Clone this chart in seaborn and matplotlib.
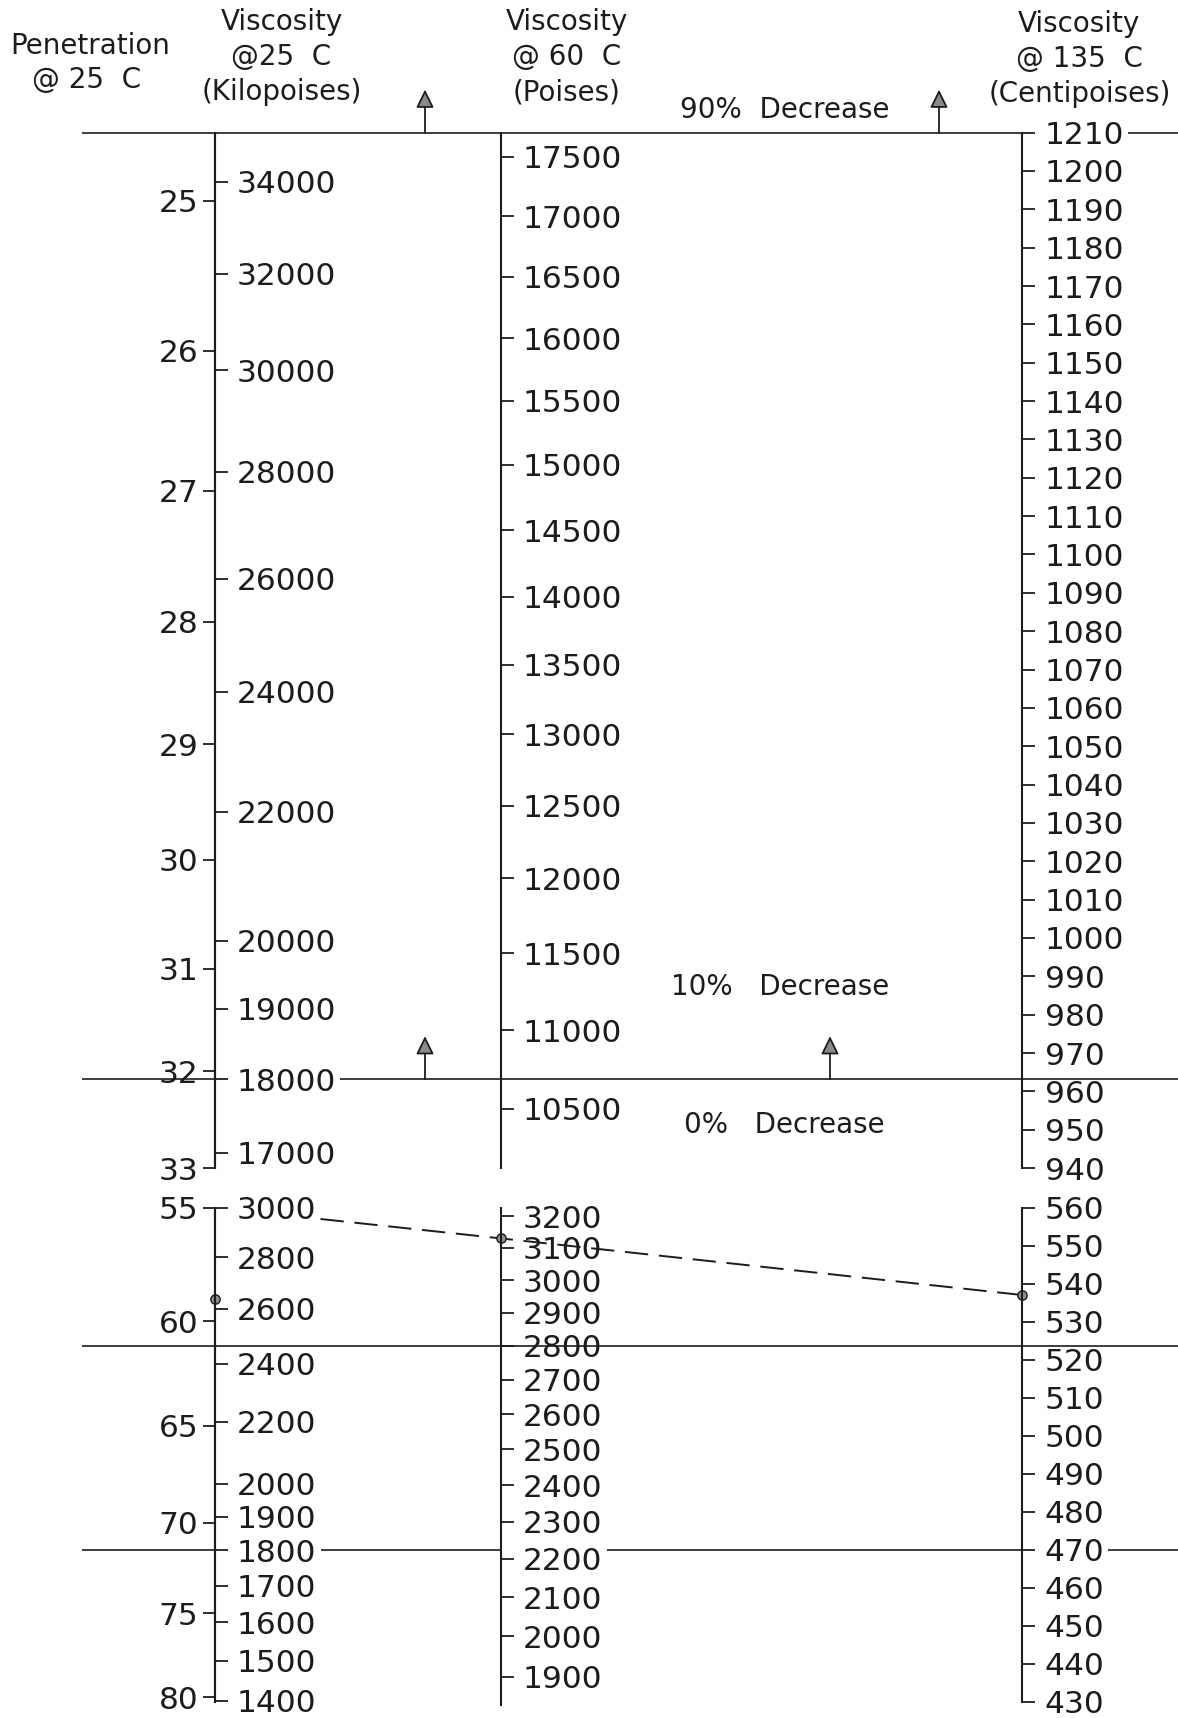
import numpy as np
import pandas as pd
import matplotlib
matplotlib.use("Agg")
import matplotlib.pyplot as plt
from matplotlib.ticker import NullLocator
import seaborn as sns

# ---- scale graduations -------------------------------------------------
pen_upper = [25, 26, 27, 28, 29, 30, 31, 32, 33]
kpoise_upper = [34000, 32000, 30000, 28000, 26000, 24000, 22000, 20000,
                19000, 18000, 17000]
poise60_upper = [17500, 17000, 16500, 16000, 15500, 15000, 14500, 14000,
                 13500, 13000, 12500, 12000, 11500, 11000, 10500]
cpoise135_upper = [1210, 1200, 1190, 1180, 1170, 1160, 1150, 1140, 1130,
                   1120, 1110, 1100, 1090, 1080, 1070, 1060, 1050, 1040,
                   1030, 1020, 1010, 1000, 990, 980, 970, 960, 950, 940]

pen_lower = [55, 60, 65, 70, 75, 80]
kpoise_lower = [3000, 2800, 2600, 2400, 2200, 2000, 1900, 1800, 1700,
                1600, 1500, 1400]
poise60_lower = [3200, 3100, 3000, 2900, 2800, 2700, 2600, 2500, 2400,
                 2300, 2200, 2100, 2000, 1900]
cpoise135_lower = [560, 550, 540, 530, 520, 510, 500, 490, 480, 470, 460,
                   450, 440, 430]

# value at the top end and at the bottom end of every scale
pen_upper_range = (24.57, 33.0)
kpoise_upper_range = (35108, 16797)
poise60_upper_range = (17705, 10134)
cpoise135_upper_range = (1210, 940)
pen_lower_range = (55.0, 80.27)
kpoise_lower_range = (3000, 1397.3)
poise60_lower_range = (3228, 1830.6)
cpoise135_lower_range = (560, 430)

# boundaries between the decrease zones
decrease_90_cp135 = 1210
decrease_10_kpoise = 18000
boundary_poise60 = 2800
boundary_kpoise = 1800

# worked example
example_pen = 59
example_kpoise = 3000
example_poise60 = 3130
example_cp135 = 537

# ---- page layout (pixels) ---------------------------------------------
W, H = 1178, 1718
AX_L, AX_M, AX_R = 214.8, 500.8, 1022.4
UP_TOP, UP_BOT = 132.6, 1168.1
LO_TOP, LO_BOT = 1207.6, 1701.8
LO_BOT_60 = 1705.0
LEFT_EDGE = 82.0
INK = "#1c1c1c"

sns.set_theme(style="white")
plt.rcParams["font.family"] = ["DejaVu Sans"]

fig = plt.figure(figsize=(W / 100, H / 100), dpi=100)
fig.patch.set_facecolor("white")


def power_scale(p):
    def fwd(v):
        with np.errstate(all="ignore"):
            return np.power(np.abs(v), p)

    def inv(t):
        with np.errstate(all="ignore"):
            return np.power(np.abs(t), 1.0 / p)
    return "function", dict(functions=(fwd, inv))


def inverse_power_scale(q):
    def fwd(v):
        with np.errstate(all="ignore"):
            return -np.power(np.maximum(np.abs(v), 1e-9), -q)

    def inv(t):
        with np.errstate(all="ignore"):
            return np.power(np.maximum(np.abs(t), 1e-12), -1.0 / q)
    return "function", dict(functions=(fwd, inv))


def make_scale(x_px, top_px, bot_px, side, scale, rng, values):
    w = 0.6
    left = x_px if side == "left" else x_px - w
    ax = fig.add_axes([left / W, 1 - bot_px / H, w / W, (bot_px - top_px) / H])
    ax.set_facecolor("none")
    for s in ax.spines.values():
        s.set_visible(False)
    ax.spines[side].set_visible(True)
    ax.spines[side].set_linewidth(1.5)
    ax.spines[side].set_color(INK)
    ax.set_xticks([])
    name, kw = scale
    ax.set_yscale(name, **kw)
    ax.set_ylim(rng[1], rng[0])
    ax.set_yticks(values, labels=[str(v) for v in values])
    ax.yaxis.set_minor_locator(NullLocator())
    ax.yaxis.set_ticks_position(side)
    ax.tick_params(axis="y", which="major", direction="out", length=9,
                   width=1.3, pad=7 if side == "right" else 3,
                   labelsize=22.5, colors=INK)
    ax.grid(False)
    return ax


# upper block
ax_pen_hi = make_scale(AX_L, UP_TOP, UP_BOT, "left", inverse_power_scale(0.8),
                       pen_upper_range, pen_upper)
ax_kp_hi = make_scale(AX_L, UP_TOP, UP_BOT, "right", power_scale(0.26),
                      kpoise_upper_range, kpoise_upper)
ax_p60_hi = make_scale(AX_M, UP_TOP, UP_BOT, "right", power_scale(0.4),
                       poise60_upper_range, poise60_upper)
ax_cp_hi = make_scale(AX_R, UP_TOP, UP_BOT, "right", ("linear", {}),
                      cpoise135_upper_range, cpoise135_upper)

# lower block
ax_pen_lo = make_scale(AX_L, LO_TOP, LO_BOT, "left", ("log", {}),
                       pen_lower_range, pen_lower)
ax_kp_lo = make_scale(AX_L, LO_TOP, LO_BOT, "right", power_scale(0.3),
                      kpoise_lower_range, kpoise_lower)
ax_p60_lo = make_scale(AX_M, LO_TOP, LO_BOT_60, "right", power_scale(0.5),
                       poise60_lower_range, poise60_lower)
ax_cp_lo = make_scale(AX_R, LO_TOP, LO_BOT, "right", ("linear", {}),
                      cpoise135_lower_range, cpoise135_lower)

fig.canvas.draw()
renderer = fig.canvas.get_renderer()


def level_y(ax, value):
    return H - ax.transData.transform((0, value))[1]


def label_right(ax, text):
    for lab in ax.get_yticklabels():
        if lab.get_text() == text:
            return lab.get_window_extent(renderer).x1
    return None


# full-page layer for headings, zone lines and the example
ov = fig.add_axes([0, 0, 1, 1], zorder=-1)
ov.set_xlim(0, W)
ov.set_ylim(H, 0)
ov.set_autoscale_on(False)
ov.axis("off")
ov.set_facecolor("none")


def hline(y, x0, x1):
    ov.plot([x0, x1], [y, y], color=INK, lw=1.2, solid_capstyle="butt")


def arrow_up(x, y):
    ov.annotate("", xy=(x, y - 43), xytext=(x, y),
                arrowprops=dict(arrowstyle="-|>,head_length=0.55,head_width=0.27",
                                mutation_scale=20, ec=INK, fc="#8a8a8a",
                                lw=1.3, shrinkA=0, shrinkB=0))


# 90 % decrease line
y90 = level_y(ax_cp_hi, decrease_90_cp135)
hline(y90, LEFT_EDGE, AX_R)
hline(y90, label_right(ax_cp_hi, "1210") + 4, W)
arrow_up(425, y90)
arrow_up(939, y90)

# 10 % decrease line
y10 = level_y(ax_kp_hi, decrease_10_kpoise)
hline(y10, LEFT_EDGE, AX_L)
hline(y10, label_right(ax_kp_hi, "18000") + 4, W)
arrow_up(425, y10)
arrow_up(830, y10)

# lower block boundaries
yb1 = level_y(ax_p60_lo, boundary_poise60)
hline(yb1, LEFT_EDGE, W)
yb2 = level_y(ax_kp_lo, boundary_kpoise)
hline(yb2, LEFT_EDGE, AX_L)
hline(yb2, label_right(ax_kp_lo, "1800") + 4, AX_M)
hline(yb2, label_right(ax_p60_lo, "2200") + 4, AX_R)
hline(yb2, label_right(ax_cp_lo, "470") + 4, W)

# worked example: dashed connector and points on the scales
ex_x = [AX_L, AX_M, AX_R]
ex_y = [level_y(ax_kp_lo, example_kpoise),
        level_y(ax_p60_lo, example_poise60),
        level_y(ax_cp_lo, example_cp135)]
x_start = label_right(ax_kp_lo, str(example_kpoise)) + 4
y_start = np.interp(x_start, ex_x[:2], ex_y[:2])
path = pd.DataFrame({"x": [x_start, ex_x[1], ex_x[2]],
                     "y": [y_start, ex_y[1], ex_y[2]]})
sns.lineplot(data=path, x="x", y="y", sort=False, estimator=None, ax=ov,
             color=INK, lw=1.4, linestyle=(0, (12, 5.5)))
pts = pd.DataFrame({"x": ex_x,
                    "y": [level_y(ax_pen_lo, example_pen), ex_y[1], ex_y[2]]})
sns.scatterplot(data=pts, x="x", y="y", ax=ov, s=45, color="#8f8f8f",
                edgecolor=INK, linewidth=1.0, zorder=6, legend=False)
ov.set_xlim(0, W)
ov.set_ylim(H, 0)

# headings
head = dict(ha="center", va="center", fontsize=20, color=INK)
ov.text(90, 46, "Penetration", **head)
ov.text(87, 80, "@ 25  C", **head)
for xc, lines, ys in [
        (281.6, ["Viscosity", "@25  C", "(Kilopoises)"], [22, 57, 92]),
        (566.5, ["Viscosity", "@ 60  C", "(Poises)"], [22, 57, 92]),
        (1079.4, ["Viscosity", "@ 135  C", "(Centipoises)"], [24, 59, 94])]:
    for txt, yc in zip(lines, ys):
        ov.text(xc, yc, txt, **head)

ov.text(784.6, 109.6, "90%  Decrease", **head)
ov.text(780.2, 987.3, "10%   Decrease", **head)
ov.text(784.6, 1125.4, "0%   Decrease", **head)

fig.savefig("out.png", dpi=100, facecolor="white")
